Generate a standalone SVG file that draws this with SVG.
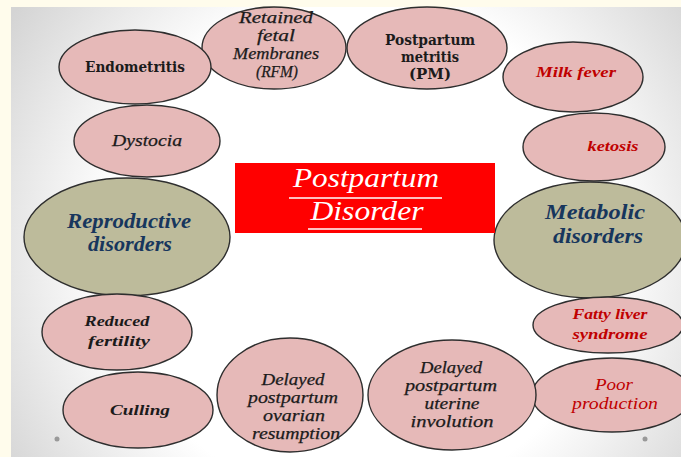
<svg xmlns="http://www.w3.org/2000/svg" width="681" height="457" viewBox="0 0 681 457">
<defs>
<radialGradient id="bg" gradientUnits="userSpaceOnUse" cx="360" cy="250" r="420">
<stop offset="0" stop-color="#ffffff"/>
<stop offset="0.6" stop-color="#ffffff"/>
<stop offset="1" stop-color="#d4d4d4"/>
</radialGradient>
<style>
.pk{fill:#e6b9b8;stroke:#2e2e2e;stroke-width:1.4}
.ol{fill:#bdbb9b;stroke:#2e2e2e;stroke-width:1.4}
text{font-family:"Liberation Serif","DejaVu Serif",serif;text-anchor:middle}
.it{font-style:italic;font-size:16px;fill:#1b1b1b;stroke:#1b1b1b;stroke-width:0.25}
.bd{font-family:"DejaVu Serif","Liberation Serif",serif;font-weight:bold;font-size:15px;fill:#1b1b1b}
.bi{font-style:italic;font-weight:bold;font-size:15px;fill:#1b1b1b}
.nv{font-style:italic;font-weight:bold;font-size:20px;fill:#17365d}
.rd{font-style:italic;font-weight:bold;font-size:14px;fill:#c00000}
.rp{font-style:italic;font-size:17px;fill:#c00000}
.tt{font-style:italic;font-size:27px;fill:#ffffff}
</style>
</defs>
<rect x="0" y="0" width="681" height="457" fill="#fffcec"/>
<rect x="11" y="7" width="670" height="450" fill="url(#bg)"/>
<circle cx="57" cy="439" r="2.5" fill="#999"/>
<circle cx="645" cy="439" r="2.5" fill="#999"/>

<g id="rfm">
<ellipse class="pk" cx="274" cy="48" rx="72" ry="41"/>
<text class="it" x="276" y="23" textLength="74" lengthAdjust="spacingAndGlyphs">Retained</text>
<text class="it" x="276" y="41" textLength="38" lengthAdjust="spacingAndGlyphs">fetal</text>
<text class="it" x="276" y="59" textLength="86" lengthAdjust="spacingAndGlyphs">Membranes</text>
<text class="it" x="277" y="77" textLength="42" lengthAdjust="spacingAndGlyphs">(RFM)</text>
</g>
<g id="endometritis">
<ellipse class="pk" cx="135" cy="67" rx="76" ry="37"/>
<text class="bd" x="135" y="72" textLength="100" lengthAdjust="spacingAndGlyphs">Endometritis</text>
</g>
<g id="pm">
<ellipse class="pk" cx="427" cy="48" rx="80" ry="41"/>
<text class="bd" x="430" y="45" textLength="90" lengthAdjust="spacingAndGlyphs">Postpartum</text>
<text class="bd" x="430" y="62" textLength="58" lengthAdjust="spacingAndGlyphs">metritis</text>
<text class="bd" x="430" y="79">(PM)</text>
</g>
<g id="milk-fever">
<ellipse class="pk" cx="573" cy="77" rx="70" ry="35"/>
<text class="rd" x="576" y="77" textLength="80" lengthAdjust="spacingAndGlyphs">Milk fever</text>
</g>
<g id="ketosis">
<ellipse class="pk" cx="594" cy="147" rx="71" ry="34"/>
<text class="rd" x="613" y="151" textLength="51" lengthAdjust="spacingAndGlyphs">ketosis</text>
</g>
<g id="dystocia">
<ellipse class="pk" cx="147" cy="141" rx="73" ry="36"/>
<text class="it" x="147" y="146" textLength="70" lengthAdjust="spacingAndGlyphs">Dystocia</text>
</g>
<g id="reproductive">
<ellipse class="ol" cx="127" cy="237" rx="103" ry="59"/>
<text class="nv" x="129" y="228" textLength="124" lengthAdjust="spacingAndGlyphs">Reproductive</text>
<text class="nv" x="130" y="251" textLength="84" lengthAdjust="spacingAndGlyphs">disorders</text>
</g>
<g id="metabolic">
<ellipse class="ol" cx="590" cy="240" rx="96" ry="58"/>
<text class="nv" x="595" y="219" textLength="100" lengthAdjust="spacingAndGlyphs">Metabolic</text>
<text class="nv" x="598" y="243" textLength="90" lengthAdjust="spacingAndGlyphs">disorders</text>
</g>
<g id="fatty-liver">
<ellipse class="pk" cx="608" cy="325" rx="75" ry="28"/>
<text class="rd" x="610" y="319" textLength="75" lengthAdjust="spacingAndGlyphs">Fatty liver</text>
<text class="rd" x="610" y="339" textLength="75" lengthAdjust="spacingAndGlyphs">syndrome</text>
</g>
<g id="poor-production">
<ellipse class="pk" cx="612" cy="395" rx="80" ry="37"/>
<text class="rp" x="614" y="390" textLength="38" lengthAdjust="spacingAndGlyphs">Poor</text>
<text class="rp" x="615" y="409" textLength="86" lengthAdjust="spacingAndGlyphs">production</text>
</g>
<g id="reduced-fertility">
<ellipse class="pk" cx="117" cy="332" rx="75" ry="38"/>
<text class="bi" x="117" y="326" textLength="65" lengthAdjust="spacingAndGlyphs">Reduced</text>
<text class="bi" x="119" y="346" textLength="62" lengthAdjust="spacingAndGlyphs">fertility</text>
</g>
<g id="culling">
<ellipse class="pk" cx="138" cy="410" rx="75" ry="38"/>
<text class="bi" x="140" y="415" textLength="60" lengthAdjust="spacingAndGlyphs">Culling</text>
</g>
<g id="ovarian">
<ellipse class="pk" cx="290" cy="395" rx="73" ry="57"/>
<text class="it" x="293" y="385" textLength="63" lengthAdjust="spacingAndGlyphs">Delayed</text>
<text class="it" x="293" y="403" textLength="90" lengthAdjust="spacingAndGlyphs">postpartum</text>
<text class="it" x="294" y="421" textLength="62" lengthAdjust="spacingAndGlyphs">ovarian</text>
<text class="it" x="296" y="439" textLength="88" lengthAdjust="spacingAndGlyphs">resumption</text>
</g>
<g id="uterine">
<ellipse class="pk" cx="452" cy="395" rx="84" ry="55"/>
<text class="it" x="451" y="373" textLength="62" lengthAdjust="spacingAndGlyphs">Delayed</text>
<text class="it" x="451" y="391" textLength="92" lengthAdjust="spacingAndGlyphs">postpartum</text>
<text class="it" x="452" y="409" textLength="55" lengthAdjust="spacingAndGlyphs">uterine</text>
<text class="it" x="452" y="427" textLength="83" lengthAdjust="spacingAndGlyphs">involution</text>
</g>
<g id="title">
<rect x="235" y="163" width="260" height="70" fill="#ff0000"/>
<text class="tt" x="366" y="187" textLength="146" lengthAdjust="spacingAndGlyphs">Postpartum</text>
<line x1="289" y1="198" x2="442" y2="198" stroke="#fff" stroke-width="1.3"/>
<text class="tt" x="367" y="220" textLength="113" lengthAdjust="spacingAndGlyphs">Disorder</text>
<line x1="308" y1="229" x2="422" y2="229" stroke="#fff" stroke-width="1.3"/>
</g>
</svg>
